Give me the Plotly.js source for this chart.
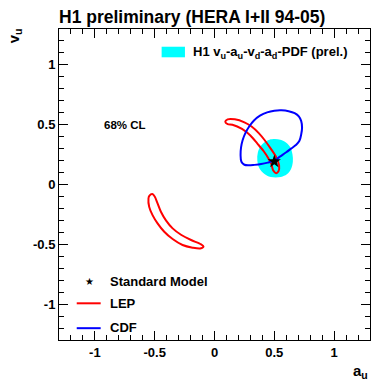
<!DOCTYPE html>
<html>
<head>
<meta charset="utf-8">
<script src="https://cdn.plot.ly/plotly-3.0.1.min.js"></script>
<style>html,body{margin:0;padding:0;background:#fff;}#chart{width:381px;height:391px;}</style>
</head>
<body>
<div id="chart"></div>
<script>
// H1 v_u-a_u-v_d-a_d-PDF fit, 68% CL region
const h1A = [0.46, 0.55, 0.60, 0.635, 0.652, 0.655, 0.64, 0.605, 0.555, 0.47, 0.415, 0.375, 0.358, 0.362, 0.385, 0.42, 0.46];
const h1V = [0.375, 0.375, 0.35, 0.31, 0.25, 0.19, 0.13, 0.085, 0.063, 0.063, 0.09, 0.135, 0.20, 0.265, 0.32, 0.355, 0.375];

// LEP contours (two solutions)
const lepUpperA = [0.09, 0.11, 0.17, 0.25, 0.31, 0.37, 0.42, 0.47, 0.515, 0.54, 0.535, 0.515, 0.49, 0.475, 0.45, 0.41, 0.36, 0.30, 0.23, 0.15, 0.11, 0.09];
const lepUpperV = [0.525, 0.545, 0.545, 0.52, 0.485, 0.43, 0.37, 0.30, 0.23, 0.16, 0.11, 0.095, 0.12, 0.17, 0.22, 0.28, 0.34, 0.41, 0.465, 0.50, 0.505, 0.525];
const lepLowerA = [-0.52, -0.545, -0.552, -0.546, -0.518, -0.476, -0.42, -0.35, -0.267, -0.183, -0.12, -0.092, -0.112, -0.196, -0.28, -0.35, -0.406, -0.448, -0.476, -0.50, -0.52];
const lepLowerV = [-0.08, -0.095, -0.117, -0.187, -0.256, -0.325, -0.395, -0.456, -0.506, -0.528, -0.535, -0.518, -0.50, -0.464, -0.42, -0.367, -0.30, -0.228, -0.158, -0.10, -0.08];

// CDF contour
const cdfA = [0.225, 0.218, 0.222, 0.235, 0.258, 0.29, 0.33, 0.38, 0.44, 0.50, 0.56, 0.62, 0.67, 0.705, 0.725, 0.732, 0.725, 0.71, 0.68, 0.64, 0.60, 0.55, 0.50, 0.445, 0.39, 0.335, 0.285, 0.25, 0.225];
const cdfV = [0.19, 0.25, 0.31, 0.37, 0.43, 0.485, 0.535, 0.575, 0.603, 0.617, 0.62, 0.613, 0.597, 0.57, 0.53, 0.475, 0.42, 0.365, 0.33, 0.30, 0.27, 0.235, 0.20, 0.183, 0.171, 0.164, 0.16, 0.165, 0.19];

// Standard Model point
const smA = [0.5];
const smV = [0.192];

// tick labels
const tickVals = [-1, -0.5, 0, 0.5, 1];
const tickText = ['-1', '-0.5', '0', '0.5', '1'];

const FONT = 'Liberation Sans, Arial, Helvetica, sans-serif';

const traces = [
  {x: h1A, y: h1V, type: 'scatter', mode: 'lines', fill: 'toself', fillcolor: '#00ffff',
   line: {width: 0, color: '#00ffff', shape: 'spline', smoothing: 1}, hoverinfo: 'skip'},
  {x: lepUpperA, y: lepUpperV, type: 'scatter', mode: 'lines',
   line: {color: '#ff0000', width: 2, shape: 'spline', smoothing: 0.8}},
  {x: lepLowerA, y: lepLowerV, type: 'scatter', mode: 'lines',
   line: {color: '#ff0000', width: 2, shape: 'spline', smoothing: 0.8}},
  {x: cdfA, y: cdfV, type: 'scatter', mode: 'lines',
   line: {color: '#0000ff', width: 2, shape: 'spline', smoothing: 1}},
  {x: smA, y: smV, type: 'scatter', mode: 'markers',
   marker: {symbol: 'star', size: 10, color: '#000000', line: {width: 0}}}
];

const axisCommon = {
  range: [-1.3, 1.3], showgrid: false, zeroline: false,
  showline: true, linecolor: '#000', linewidth: 1, mirror: 'allticks',
  ticks: 'inside', ticklen: 9, tickwidth: 1, tickcolor: '#000',
  tickmode: 'array', tickvals: tickVals, ticktext: tickText,
  tickfont: {family: FONT, size: 13, color: '#000', weight: 'bold'},
  minor: {ticks: 'inside', ticklen: 5, tickwidth: 1, tickcolor: '#000', tickmode: 'linear', tick0: 0, dtick: 0.1, showgrid: false},
  fixedrange: true
};

const layout = {
  width: 381, height: 391,
  margin: {l: 59, r: 11, t: 29, b: 51, pad: 0},
  paper_bgcolor: '#fff', plot_bgcolor: '#fff',
  showlegend: false,
  font: {family: FONT, color: '#000', weight: 'bold'},
  title: {text: 'H1 preliminary (HERA I+II 94-05)', xref: 'container', yref: 'container',
    x: 59/381, xanchor: 'left', y: 1 - 16.5/391, yanchor: 'middle',
    font: {family: FONT, size: 17.5, color: '#000', weight: 'bold'}},
  xaxis: Object.assign({}, axisCommon),
  yaxis: Object.assign({}, axisCommon),
  shapes: [
    {type: 'rect', xref: 'paper', yref: 'paper', x0: 0.330, x1: 0.405, y0: 0.909, y1: 0.943,
     fillcolor: '#00ffff', line: {width: 0}},
    {type: 'line', xref: 'paper', yref: 'paper', x0: 0.057, x1: 0.134, y0: 0.118, y1: 0.118,
     line: {color: '#ff0000', width: 2}},
    {type: 'line', xref: 'paper', yref: 'paper', x0: 0.057, x1: 0.134, y0: 0.038, y1: 0.038,
     line: {color: '#0000ff', width: 2}}
  ],
  annotations: [
    {text: 'H1 v<sub>u</sub>-a<sub>u</sub>-v<sub>d</sub>-a<sub>d</sub>-PDF (prel.)', xref: 'paper', yref: 'paper',
     x: 0.424, y: 0.926, xanchor: 'left', yanchor: 'middle', showarrow: false,
     font: {family: FONT, size: 13, color: '#000', weight: 'bold'}},
    {text: '68% CL', xref: 'paper', yref: 'paper', x: 0.137, y: 0.691, xanchor: 'left', yanchor: 'middle',
     showarrow: false, font: {family: FONT, size: 11.5, color: '#000', weight: 'bold'}},
    {text: '★', xref: 'paper', yref: 'paper', x: 0.097, y: 0.1875, xanchor: 'center', yanchor: 'middle',
     showarrow: false, font: {family: 'DejaVu Sans', size: 10, color: '#000'}},
    {text: 'Standard Model', xref: 'paper', yref: 'paper', x: 0.157, y: 0.188, xanchor: 'left', yanchor: 'middle',
     showarrow: false, font: {family: FONT, size: 13, color: '#000', weight: 'bold'}},
    {text: 'LEP', xref: 'paper', yref: 'paper', x: 0.157, y: 0.118, xanchor: 'left', yanchor: 'middle',
     showarrow: false, font: {family: FONT, size: 13, color: '#000', weight: 'bold'}},
    {text: 'CDF', xref: 'paper', yref: 'paper', x: 0.157, y: 0.04, xanchor: 'left', yanchor: 'middle',
     showarrow: false, font: {family: FONT, size: 13, color: '#000', weight: 'bold'}},
    {text: 'a<sub>u</sub>', xref: 'paper', yref: 'paper', x: 1.0, y: -0.10, xanchor: 'right', yanchor: 'middle',
     showarrow: false, font: {family: FONT, size: 15, color: '#000', weight: 'bold'}},
    {text: 'v<sub>u</sub>', xref: 'paper', yref: 'paper', x: -0.145, y: 1.01, xanchor: 'center', yanchor: 'top',
     textangle: -90, showarrow: false, font: {family: FONT, size: 15, color: '#000', weight: 'bold'}}
  ]
};

Plotly.newPlot('chart', traces, layout, {staticPlot: true, displayModeBar: false});
</script>
</body>
</html>
